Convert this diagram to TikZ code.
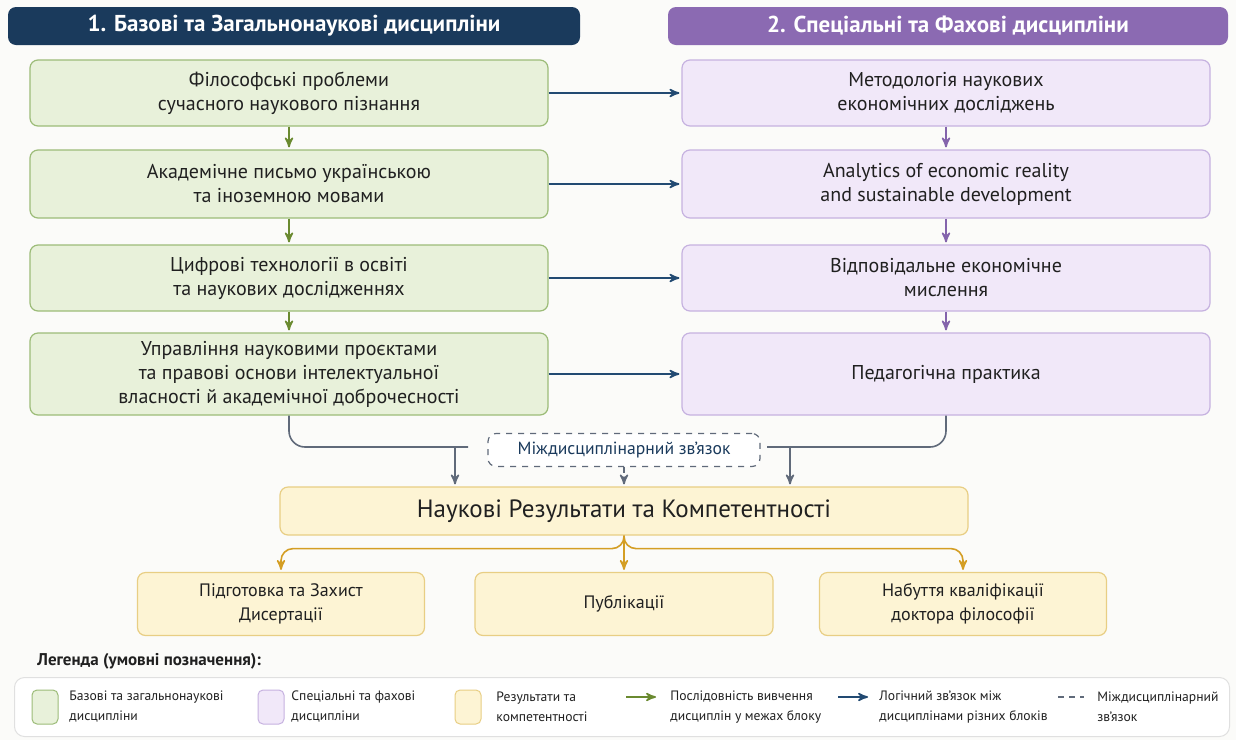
\documentclass[tikz,border=0pt]{standalone}
\usepackage{fontspec}
\setmainfont{PT Sans}
\usepackage{tikz}
\usetikzlibrary{arrows}

\definecolor{navy}{RGB}{26,58,92}
\definecolor{violet}{RGB}{139,106,178}
\definecolor{greenfill}{RGB}{232,241,218}
\definecolor{greenline}{RGB}{156,188,120}
\definecolor{violetfill}{RGB}{241,232,249}
\definecolor{violetline}{RGB}{198,178,224}
\definecolor{yellowfill}{RGB}{253,244,212}
\definecolor{yellowline}{RGB}{232,206,132}
\definecolor{greenarrow}{RGB}{106,138,48}
\definecolor{bluearrow}{RGB}{34,74,114}
\definecolor{violetarrow}{RGB}{132,100,172}
\definecolor{grayarrow}{RGB}{96,106,122}
\definecolor{goldarrow}{RGB}{212,158,36}
\definecolor{inktext}{RGB}{32,32,32}
\definecolor{paper}{RGB}{251,251,249}

\begin{document}
\begin{tikzpicture}[x=0.5pt,y=-0.5pt,>=stealth',shorten >=1pt,thick,
  header/.style={rectangle,rounded corners=4pt,text=white,font=\fontsize{11.5}{13}\selectfont\bfseries,minimum height=19pt},
  box/.style={rectangle,rounded corners=4pt,draw,align=center,text=inktext,font=\fontsize{10}{12}\selectfont,line width=0.6pt},
  green box/.style={box,fill=greenfill,draw=greenline,minimum width=259pt},
  violet box/.style={box,fill=violetfill,draw=violetline,minimum width=264pt},
  yellow box/.style={box,fill=yellowfill,draw=yellowline},
  swatch/.style={rectangle,rounded corners=2.5pt,draw,line width=0.5pt,minimum width=13pt,minimum height=17pt},
  legend text/.style={anchor=west,align=left,text=inktext,font=\fontsize{6.8}{10}\selectfont},
  link/.style={->,line width=0.8pt}]

  \useasboundingbox[fill=paper] (0,0) rectangle (1236,740);

  % headers
  \node[header,fill=navy,minimum width=286pt] (h1) at (294,26) {1. Базові та Загальнонаукові дисципліни};
  \node[header,fill=violet,minimum width=280pt] (h2) at (948,26) {2. Спеціальні та Фахові дисципліни};

  % block 1
  \node[green box,minimum height=33pt] (g1) at (289,93) {Філософські проблеми\\сучасного наукового пізнання};
  \node[green box,minimum height=34pt] (g2) at (289,184) {Академічне письмо українською\\та іноземною мовами};
  \node[green box,minimum height=33pt] (g3) at (289,278) {Цифрові технології в освіті\\та наукових дослідженнях};
  \node[green box,minimum height=41pt] (g4) at (289,374) {Управління науковими проєктами\\та правові основи інтелектуальної\\власності й академічної доброчесності};

  % block 2
  \node[violet box,minimum height=33pt] (p1) at (946,93) {Методологія наукових\\економічних досліджень};
  \node[violet box,minimum height=34pt] (p2) at (946,184) {Analytics of economic reality\\and sustainable development};
  \node[violet box,minimum height=33pt] (p3) at (946,278) {Відповідальне економічне\\мислення};
  \node[violet box,minimum height=41pt] (p4) at (946,374) {Педагогічна практика};

  % results
  \node[yellow box,minimum width=344pt,minimum height=24pt,font=\fontsize{12.5}{14}\selectfont] (res) at (624,511) {Наукові Результати та Компетентності};
  \node[yellow box,minimum width=143.5pt,minimum height=31.5pt,font=\fontsize{9}{12}\selectfont] (o1) at (281,604) {Підготовка та Захист\\Дисертації};
  \node[yellow box,minimum width=149pt,minimum height=31.5pt,font=\fontsize{9}{12}\selectfont] (o2) at (624,604) {Публікації};
  \node[yellow box,minimum width=143.5pt,minimum height=31.5pt,font=\fontsize{9}{12}\selectfont] (o3) at (963,604) {Набуття кваліфікації\\доктора філософії};

  \node[box,dashed,draw=grayarrow,fill=white,minimum width=136pt,minimum height=16.5pt,font=\fontsize{8.8}{10}\selectfont,text=navy] (mid) at (624,450) {Міждисциплінарний зв'язок};

\path[link]
  (g1) edge[greenarrow] (g2)
  (g2) edge[greenarrow] (g3)
  (g3) edge[greenarrow] (g4)
  (p1) edge[violetarrow] (p2)
  (p2) edge[violetarrow] (p3)
  (p3) edge[violetarrow] (p4)
  (g1) edge[bluearrow] (p1)
  (g2) edge[bluearrow] (p2)
  (g3) edge[bluearrow] (p3)
  (g4) edge[bluearrow] (p4)
;

  % into results
  \coordinate (lend) at (470,447);
  \coordinate (ldrop) at (455,447);
  \coordinate (rend) at (765,447);
  \coordinate (rdrop) at (790,447);
  \draw[grayarrow,line width=0.8pt,rounded corners=8pt] (g4.south) |- (lend);
  \draw[grayarrow,line width=0.8pt,rounded corners=8pt] (p4.south) |- (rend);
  \draw[link,grayarrow] (ldrop) -- (ldrop |- res.north);
  \draw[link,grayarrow] (rdrop) -- (rdrop |- res.north);
  \draw[link,grayarrow,dashed] (mid.south) -- (mid.south |- res.north);

  % outcomes
  \draw[link,goldarrow,rounded corners=6pt] (res.south) -- ++(0,13) -| (o1.north);
  \draw[link,goldarrow,rounded corners=6pt] (res.south) -- ++(0,13) -| (o3.north);
  \draw[link,goldarrow] (res.south) -- (o2.north);

  % legend
  \node[anchor=west,text=inktext,font=\fontsize{8.5}{10}\selectfont\bfseries] (legtitle) at (30,661) {Легенда (умовні позначення):};
  \node[rectangle,rounded corners=5pt,draw=black!12,fill=white,line width=0.5pt,minimum width=607.5pt,minimum height=29.5pt] (leg) at (622,707) {};
  \node[swatch,fill=greenfill,draw=greenline] (sw1) at (45,707) {};
  \node[legend text] (lt1) at (62,707) {Базові та загальнонаукові\\дисципліни};
  \node[swatch,fill=violetfill,draw=violetline] (sw2) at (271,707) {};
  \node[legend text] (lt2) at (284,707) {Спеціальні та фахові\\дисципліни};
  \node[swatch,fill=yellowfill,draw=yellowline] (sw3) at (468,707) {};
  \node[legend text] (lt3) at (489,707) {Результати та\\компетентності};
  \coordinate (la1) at (626,697);
  \coordinate (lb1) at (658,697);
  \draw[link,greenarrow] (la1) -- (lb1);
  \node[legend text] (lt4) at (663,707) {Послідовність вивчення\\дисциплін у межах блоку};
  \coordinate (la2) at (838,697);
  \coordinate (lb2) at (870,697);
  \draw[link,bluearrow] (la2) -- (lb2);
  \node[legend text] (lt5) at (872,707) {Логічний зв'язок між\\дисциплінами різних блоків};
  \coordinate (la3) at (1058,697);
  \coordinate (lb3) at (1086,697);
  \draw[grayarrow,line width=0.9pt,dash pattern=on 3pt off 2.5pt] (la3) -- (lb3);
  \node[legend text] (lt6) at (1090,707) {Міждисциплінарний\\зв'язок};
\end{tikzpicture}
\end{document}
